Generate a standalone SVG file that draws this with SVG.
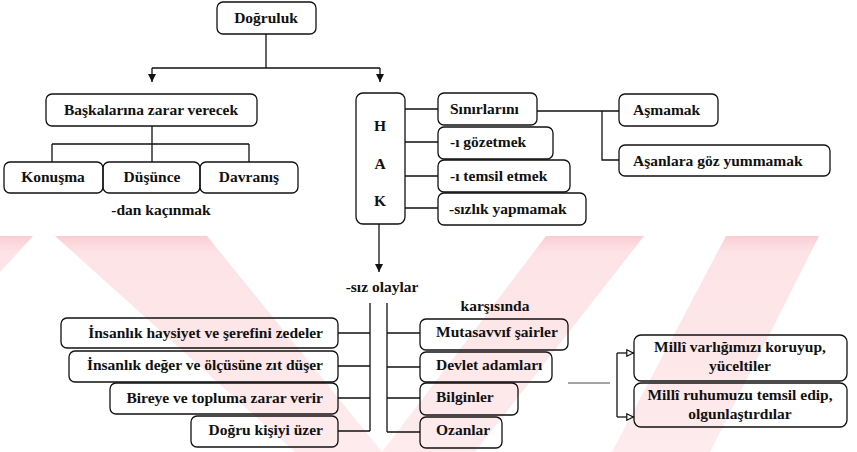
<svg xmlns="http://www.w3.org/2000/svg" width="857" height="452" viewBox="0 0 857 452">
<style>
.b{fill:none;stroke:#111;stroke-width:1.3}
.c{fill:none;stroke:#111;stroke-width:1.3}
text{font-family:"Times New Roman","Liberation Serif","DejaVu Serif","Noto Serif",serif;font-size:15.5px;font-weight:bold;fill:#111}
.m{text-anchor:middle}
.e{text-anchor:end}
.w{fill:url(#wg)}
</style>
<defs>
<linearGradient id="wg" gradientUnits="userSpaceOnUse" x1="0" y1="235" x2="0" y2="452">
<stop offset="0" stop-color="#f9cdd2"/>
<stop offset="0.08" stop-color="#fde3e6"/>
<stop offset="1" stop-color="#fdebed"/>
</linearGradient>
<marker id="ad" viewBox="0 0 10 10" refX="10" refY="5" markerUnits="userSpaceOnUse" markerWidth="10" markerHeight="8" orient="auto"><path d="M0,0 L10,5 L0,10 z" fill="#111"/></marker>
<marker id="ao" viewBox="0 0 10 10" refX="10" refY="5" markerUnits="userSpaceOnUse" markerWidth="9" markerHeight="8" orient="auto"><path d="M1,1 L9,5 L1,9 z" fill="#fff" stroke="#111" stroke-width="1.5"/></marker>
</defs>
<rect width="857" height="452" fill="#fff"/>
<g id="watermark">
<polygon class="w" points="0,236 33,236 0,272"/>
<polygon class="w" points="55,236 207,236 382,452 295,452"/>
<polygon class="w" points="382,452 475,452 644,236 546,236"/>
<polygon class="w" points="612,452 710,452 819,236 726,236"/>
</g>
<g id="connectors">
<path class="c" d="M266 34 V68 M152 68 H380"/>
<path class="c" d="M152 68 V82" marker-end="url(#ad)"/>
<path class="c" d="M380 68 V82" marker-end="url(#ad)"/>
<path class="c" d="M152 126 V144 M52 144 H249 M52 144 V162 M152 144 V162 M249 144 V162"/>
<path class="c" d="M405 109 H438 M405 142 H438 M405 176 H438 M405 208 H438"/>
<path class="c" d="M537 111 H619 M602 111 V160 H619"/>
<path class="c" d="M379 224 V272" marker-end="url(#ad)"/>
<path class="c" d="M370 303 V431 M338 333 H370 M338 366 H370 M338 398 H370 M338 431 H370"/>
<path class="c" d="M387 303 V432 M387 333 H420 M387 367 H420 M387 398 H420 M387 432 H420"/>
<path d="M568 383 H610" fill="none" stroke="#333" stroke-width="0.9"/>
<path class="c" d="M617 353 V417"/>
<path class="c" d="M617 353 H634" marker-end="url(#ao)"/>
<path class="c" d="M617 417 H634" marker-end="url(#ao)"/>
</g>
<g id="dogruluk"><rect class="b" x="217" y="2" width="99" height="32" rx="6"/><text class="m" x="266" y="23">Doğruluk</text></g>
<g id="baskalarina"><rect class="b" x="46" y="94" width="211" height="32" rx="6"/><text class="m" x="151" y="115">Başkalarına zarar verecek</text></g>
<g id="konusma"><rect class="b" x="4" y="162" width="99" height="31" rx="6"/><text class="m" x="53" y="182">Konuşma</text></g>
<g id="dusunce"><rect class="b" x="103" y="162" width="97" height="31" rx="6"/><text class="m" x="152" y="182">Düşünce</text></g>
<g id="davranis"><rect class="b" x="200" y="162" width="98" height="31" rx="6"/><text class="m" x="249" y="182">Davranış</text></g>
<g id="dan-kacinmak"><text class="m" x="161" y="215">-dan kaçınmak</text></g>
<g id="hak"><rect class="b" x="356" y="93" width="49" height="131" rx="7"/><text class="m" x="380" y="131">H</text><text class="m" x="380" y="169">A</text><text class="m" x="380" y="206">K</text></g>
<g id="sinirlarini"><rect class="b" x="438" y="93" width="99" height="32" rx="6"/><text x="450" y="114">Sınırlarını</text></g>
<g id="gozetmek"><rect class="b" x="438" y="127" width="115" height="32" rx="6"/><text x="450" y="147">-ı gözetmek</text></g>
<g id="temsil-etmek"><rect class="b" x="438" y="160" width="132" height="32" rx="6"/><text x="450" y="181">-ı temsil etmek</text></g>
<g id="sizlik"><rect class="b" x="438" y="193" width="148" height="32" rx="6"/><text x="449" y="214">-sızlık yapmamak</text></g>
<g id="asmamak"><rect class="b" x="619" y="94" width="99" height="32" rx="6"/><text x="633" y="115">Aşmamak</text></g>
<g id="asanlara"><rect class="b" x="619" y="145" width="211" height="31" rx="6"/><text x="633" y="166">Aşanlara göz yummamak</text></g>
<g id="siz-olaylar"><text class="m" x="382" y="292">-sız olaylar</text></g>
<g id="karsisinda"><text class="m" x="495" y="311">karşısında</text></g>
<g id="haysiyet"><rect class="b" x="61" y="318" width="277" height="30" rx="6"/><text class="e" x="323" y="338">İnsanlık haysiyet ve şerefini zedeler</text></g>
<g id="deger"><rect class="b" x="69" y="351" width="269" height="31" rx="6"/><text class="e" x="323" y="370">İnsanlık değer ve ölçüsüne zıt düşer</text></g>
<g id="bireye"><rect class="b" x="110" y="383" width="228" height="31" rx="6"/><text class="e" x="323" y="403">Bireye ve topluma zarar verir</text></g>
<g id="dogru-kisiyi"><rect class="b" x="191" y="416" width="147" height="31" rx="6"/><text class="e" x="323" y="435">Doğru kişiyi üzer</text></g>
<g id="mutasavvif"><rect class="b" x="420" y="319" width="148" height="31" rx="6"/><text x="436" y="337">Mutasavvıf şairler</text></g>
<g id="devlet"><rect class="b" x="420" y="352" width="132" height="30" rx="6"/><text x="436" y="370">Devlet adamları</text></g>
<g id="bilginler"><rect class="b" x="420" y="383" width="98" height="32" rx="6"/><text x="436" y="402">Bilginler</text></g>
<g id="ozanlar"><rect class="b" x="420" y="417" width="82" height="31" rx="6"/><text x="436" y="435">Ozanlar</text></g>
<g id="milli-varlik"><rect class="b" x="634" y="335" width="213" height="46" rx="7"/><text class="m" x="740" y="352">Millî varlığımızı koruyup,</text><text class="m" x="740" y="371">yüceltiler</text></g>
<g id="milli-ruh"><rect class="b" x="634" y="383" width="213" height="44" rx="7"/><text class="m" x="740" y="400">Millî ruhumuzu temsil edip,</text><text class="m" x="740" y="419">olgunlaştırdılar</text></g>
</svg>
